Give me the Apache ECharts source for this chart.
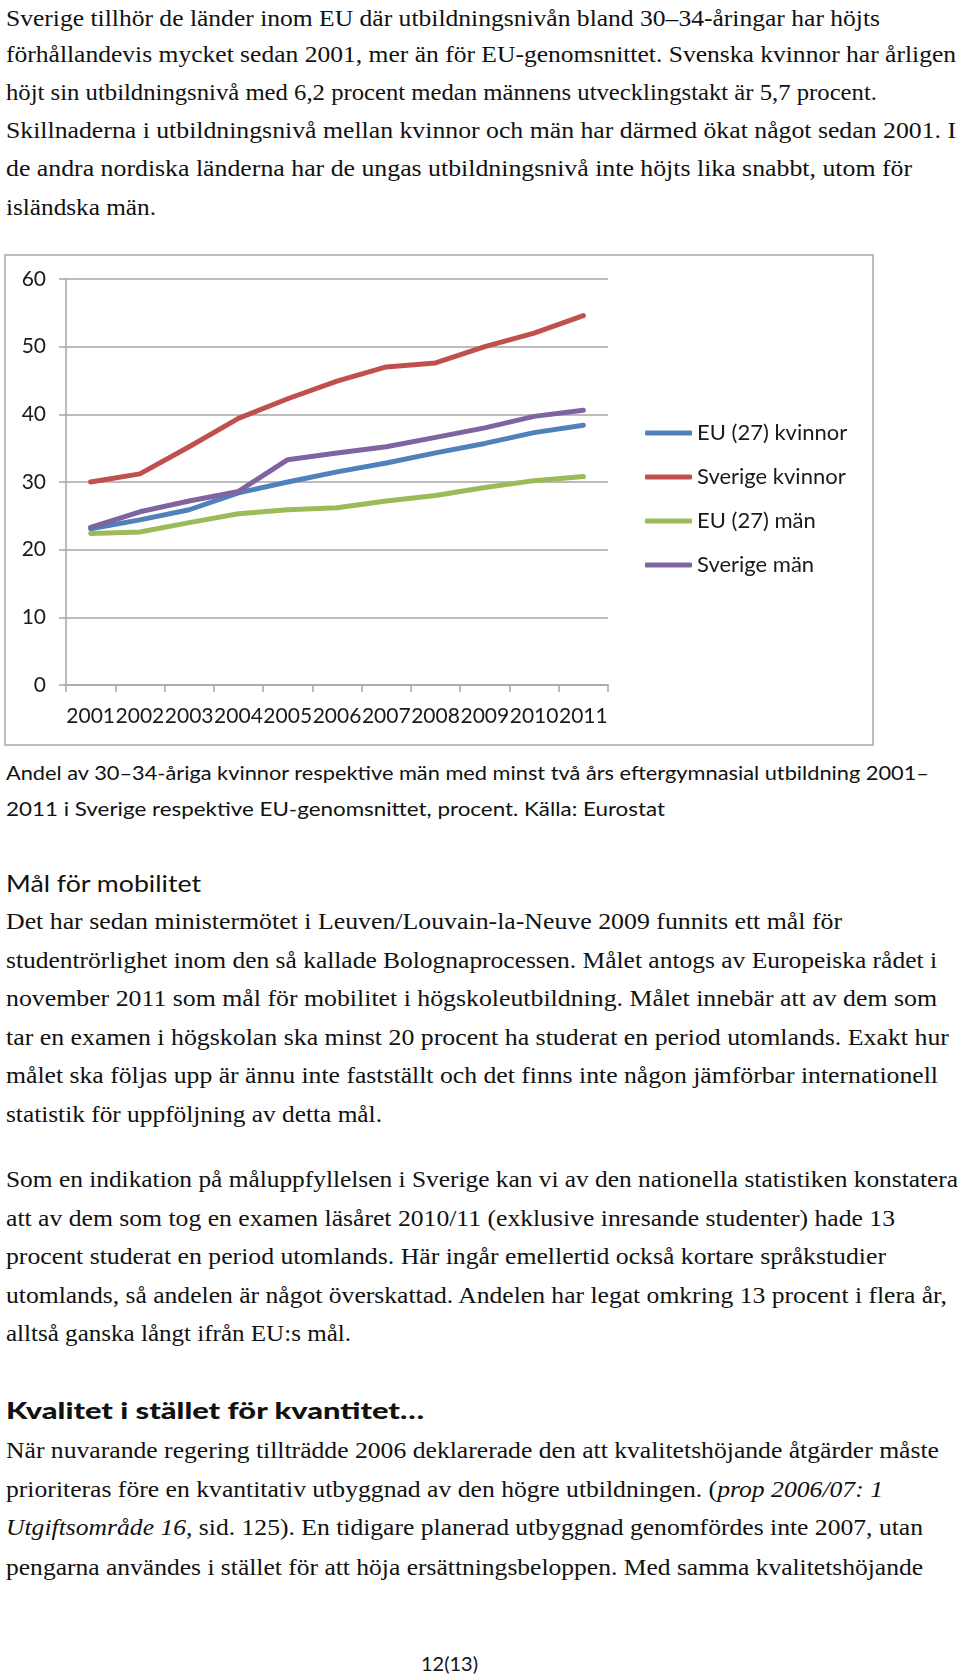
<!DOCTYPE html>
<html>
<head>
<meta charset="utf-8">
<script src="https://cdn.jsdelivr.net/npm/echarts@6/dist/echarts.min.js"></script>
<style>
  html, body { margin: 0; padding: 0; background: #fff; }
  body { width: 960px; height: 1679px; position: relative; overflow: hidden; }
  .ln { position: absolute; left: 6px; white-space: nowrap; transform-origin: 0 50%; color: #111; }
  .serif { font-family: "Liberation Serif", "DejaVu Serif", serif; font-size: 23.5px; height: 30px; line-height: 30px; }
  .sans { font-family: Lato, "Open Sans", sans-serif; font-size: 18.5px; height: 26px; line-height: 26px; }
  .head { font-family: Lato, "Open Sans", sans-serif; font-size: 23px; height: 30px; line-height: 30px; }
  .bold { font-weight: 900; }
  #box { position: absolute; left: 4px; top: 254px; width: 870px; height: 492px; box-sizing: border-box; border: 2px solid #bdbdbd; }
  #chart { width: 866px; height: 488px; }
</style>
</head>
<body>
<div id="box"><div id="chart"></div></div>
<div id="text"></div>
<script>
// ---- chart data ----
const years = ['2001','2002','2003','2004','2005','2006','2007','2008','2009','2010','2011'];
const euKvinnor      = [23.1, 24.4, 25.9, 28.4, 30.0, 31.5, 32.8, 34.3, 35.7, 37.3, 38.4];
const sverigeKvinnor = [30.0, 31.2, 35.2, 39.4, 42.3, 44.9, 47.0, 47.6, 50.0, 52.0, 54.6];
const euMan          = [22.4, 22.6, 24.0, 25.3, 25.9, 26.2, 27.2, 28.0, 29.2, 30.2, 30.8];
const sverigeMan     = [23.3, 25.6, 27.2, 28.6, 33.3, 34.3, 35.2, 36.6, 38.0, 39.7, 40.6];
const seriesNames = ['EU (27) kvinnor', 'Sverige kvinnor', 'EU (27) män', 'Sverige män'];
const seriesColors = ['#4F81BD', '#C0504D', '#9BBB59', '#8064A2'];
const yTicks = { min: 0, max: 60, interval: 10 };

// ---- page text (lines: [html, yCenter, xEnd, class]) ----
const textLines = [
  ['Sverige tillhör de länder inom EU där utbildningsnivån bland 30–34-åringar har höjts', 18, 880, 'serif'],
  ['förhållandevis mycket sedan 2001, mer än för EU-genomsnittet. Svenska kvinnor har årligen', 54, 956, 'serif'],
  ['höjt sin utbildningsnivå med 6,2 procent medan männens utvecklingstakt är 5,7 procent.', 92, 877, 'serif'],
  ['Skillnaderna i utbildningsnivå mellan kvinnor och män har därmed ökat något sedan 2001. I', 130, 956, 'serif'],
  ['de andra nordiska länderna har de ungas utbildningsnivå inte höjts lika snabbt, utom för', 168, 912, 'serif'],
  ['isländska män.', 207, 156, 'serif'],
  ['Andel av 30–34-åriga kvinnor respektive män med minst två års eftergymnasial utbildning 2001–', 773, 929, 'sans'],
  ['2011 i Sverige respektive EU-genomsnittet, procent. Källa: Eurostat', 809, 665, 'sans'],
  ['Mål för mobilitet', 883, 201, 'head'],
  ['Det har sedan ministermötet i Leuven/Louvain-la-Neuve 2009 funnits ett mål för', 921, 842, 'serif'],
  ['studentrörlighet inom den så kallade Bolognaprocessen. Målet antogs av Europeiska rådet i', 960, 937, 'serif'],
  ['november 2011 som mål för mobilitet i högskoleutbildning. Målet innebär att av dem som', 998, 937, 'serif'],
  ['tar en examen i högskolan ska minst 20 procent ha studerat en period utomlands. Exakt hur', 1037, 949, 'serif'],
  ['målet ska följas upp är ännu inte fastställt och det finns inte någon jämförbar internationell', 1075, 938, 'serif'],
  ['statistik för uppföljning av detta mål.', 1114, 382, 'serif'],
  ['Som en indikation på måluppfyllelsen i Sverige kan vi av den nationella statistiken konstatera', 1179, 958, 'serif'],
  ['att av dem som tog en examen läsåret 2010/11 (exklusive inresande studenter) hade 13', 1218, 895, 'serif'],
  ['procent studerat en period utomlands. Här ingår emellertid också kortare språkstudier', 1256, 886, 'serif'],
  ['utomlands, så andelen är något överskattad. Andelen har legat omkring 13 procent i flera år,', 1295, 947, 'serif'],
  ['alltså ganska långt ifrån EU:s mål.', 1333, 351, 'serif'],
  ['Kvalitet i stället för kvantitet…', 1410, 424, 'head bold'],
  ['När nuvarande regering tillträdde 2006 deklarerade den att kvalitetshöjande åtgärder måste', 1450, 939, 'serif'],
  ['prioriteras före en kvantitativ utbyggnad av den högre utbildningen. (<i>prop 2006/07: 1</i>', 1489, 883, 'serif'],
  ['<i>Utgiftsområde 16</i>, sid. 125). En tidigare planerad utbyggnad genomfördes inte 2007, utan', 1527, 923, 'serif'],
  ['pengarna användes i stället för att höja ersättningsbeloppen. Med samma kvalitetshöjande', 1567, 923, 'serif']
];

const holder = document.getElementById('text');
textLines.forEach(([html, yc, xEnd, cls]) => {
  const d = document.createElement('div');
  d.className = 'ln ' + cls;
  d.innerHTML = html;
  holder.appendChild(d);
  const h = d.offsetHeight;
  d.style.top = (yc - h / 2) + 'px';
  const w = d.getBoundingClientRect().width;
  const target = xEnd - 6;
  d.style.transform = 'scaleX(' + (target / w).toFixed(4) + ')';
});
// footer
const f = document.createElement('div');
f.className = 'ln sans';
f.style.fontSize = '19px';
f.textContent = '12(13)';
holder.appendChild(f);
f.style.left = '421px';
f.style.top = (1664 - f.offsetHeight / 2) + 'px';
f.style.transform = 'scaleX(' + (57 / f.getBoundingClientRect().width).toFixed(4) + ')';

// ---- chart ----
const chart = echarts.init(document.getElementById('chart'), null, { renderer: 'canvas' });
const fontFam = 'Lato, "Open Sans", sans-serif';
const gray = '#a6a6a6';
const datasets = [euKvinnor, sverigeKvinnor, euMan, sverigeMan];
chart.setOption({
  animation: false,
  grid: { left: 60, top: 23, right: 264, bottom: 59 },
  xAxis: {
    type: 'category',
    data: years,
    boundaryGap: true,
    axisLine: { lineStyle: { color: gray, width: 1.5 } },
    axisTick: { show: true, length: 7, lineStyle: { color: gray, width: 1.5 } },
    axisLabel: { interval: 0, margin: 21, color: '#1a1a1a', fontFamily: fontFam, fontSize: 21 }
  },
  yAxis: {
    type: 'value',
    min: yTicks.min, max: yTicks.max, interval: yTicks.interval,
    axisLine: { show: true, lineStyle: { color: gray, width: 1.5 } },
    axisTick: { show: true, length: 7, lineStyle: { color: gray, width: 1.5 } },
    splitLine: { show: true, lineStyle: { color: gray, width: 1.5 } },
    axisLabel: { margin: 20, color: '#1a1a1a', fontFamily: fontFam, fontSize: 21 }
  },
  legend: {
    orient: 'vertical',
    left: 634, top: 160,
    itemWidth: 47, itemHeight: 5, itemGap: 20,
    icon: 'roundRect',
    textStyle: { fontFamily: fontFam, fontSize: 22, lineHeight: 24, color: '#1a1a1a' },
    data: seriesNames
  },
  series: seriesNames.map((name, i) => ({
    name: name,
    type: 'line',
    data: datasets[i],
    showSymbol: false,
    symbol: 'none',
    color: seriesColors[i],
    lineStyle: { width: 5, color: seriesColors[i], cap: 'round', join: 'round' }
  }))
});
</script>
</body>
</html>
